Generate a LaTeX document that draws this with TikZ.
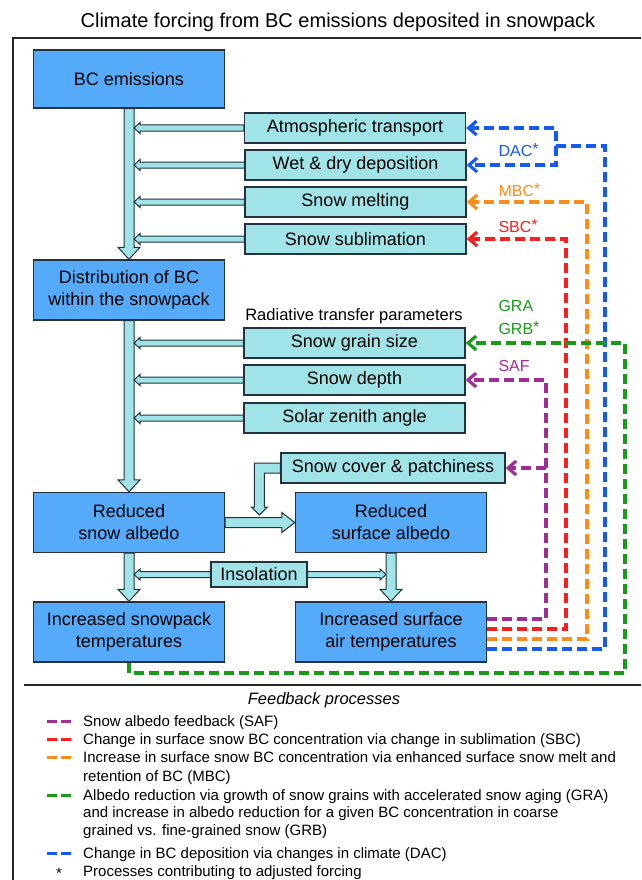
\documentclass[tikz,border=0pt]{standalone}
\usepackage{fontspec}
\setmainfont{Liberation Sans}
\usetikzlibrary{positioning,calc,arrows.meta}
\definecolor{bluefill}{RGB}{85,170,250}
\definecolor{cyanfill}{RGB}{160,228,232}
\definecolor{boxline}{RGB}{35,50,65}
\definecolor{dacc}{RGB}{20,90,245}
\definecolor{mbcc}{RGB}{255,140,25}
\definecolor{sbcc}{RGB}{250,30,30}
\definecolor{grac}{RGB}{25,155,25}
\definecolor{safc}{RGB}{160,45,150}
\tikzset{
	bluebox/.style={draw=boxline,fill=bluefill,line width=1.4pt,minimum width=191pt,minimum height=60pt,inner sep=0pt,align=center,font=\fontsize{18}{22}\selectfont},
	cyanbox/.style={draw=boxline,fill=cyanfill,line width=1.4pt,minimum width=221pt,minimum height=30pt,inner sep=0pt,font=\fontsize{18}{22}\selectfont},
	fatline/.style={draw=boxline,fill=cyanfill,line width=1pt},
	feedback/.style={line width=3.2pt,dash pattern=on 10pt off 5pt,-{Straight Barb[length=8pt,width=14pt]}},
	fblabel/.style={anchor=west,font=\fontsize{16}{18}\selectfont},
	legtext/.style={anchor=base west,align=left,inner sep=0pt,font=\fontsize{15}{17.5}\selectfont},
	legdash/.style={line width=3pt,dash pattern=on 10pt off 4pt}
}
\newcommand{\fatarrow}[5]{%
	\path ($(#2)!#5!(#1)$) coordinate (fa head);
	\draw[fatline] ($(#1)!#3!90:(#2)$) -- ($(fa head)!#3!90:(#2)$) -- ($(fa head)!#4!90:(#2)$) -- (#2) -- ($(fa head)!#4!-90:(#2)$) -- ($(fa head)!#3!-90:(#2)$) -- ($(#1)!#3!-90:(#2)$) -- cycle;}
\newcommand{\adj}{\raisebox{1.5pt}{*}}
\begin{document}
\begin{tikzpicture}[x=1pt,y=1pt]
		\useasboundingbox (0,0) rectangle (641,-880);
		\node (title) at (338,-22) [font=\fontsize{20}{24}\selectfont] {Climate forcing from BC emissions deposited in snowpack};
		\draw [line width=1.6pt,black!85] (641,-38)--(13,-38)--(13,-880);
		\node (bc) at (129,-79) [bluebox,minimum height=58pt] {BC emissions};
		\node (dist) at (129,-290) [bluebox] {Distribution of BC\\within the snowpack};
		\node (rsa) at (129,-522.5) [bluebox] {Reduced\\snow albedo};
		\node (ist) at (129,-632) [bluebox] {Increased snowpack\\temperatures};
		\node (rsurf) at (391,-522.5) [bluebox] {Reduced\\surface albedo};
		\node (isat) at (391,-632) [bluebox] {Increased surface\\air temperatures};
		\node (atm) at (355,-128) [cyanbox] {Atmospheric transport};
		\node (wet) at (355.5,-165) [cyanbox] {Wet \& dry deposition};
		\node (melt) at (355.5,-202) [cyanbox] {Snow melting};
		\node (subl) at (355.5,-239) [cyanbox] {Snow sublimation};
		\node (rtp) at (354,-316) [font=\fontsize{16.5}{19}\selectfont] {Radiative transfer parameters};
		\node (grain) at (354.5,-343) [cyanbox] {Snow grain size};
		\node (depth) at (354.5,-380) [cyanbox] {Snow depth};
		\node (zenith) at (354.5,-418) [cyanbox] {Solar zenith angle};
		\node (cover) at (393,-468) [cyanbox,minimum width=224pt] {Snow cover \& patchiness};
		\node (insol) at (259,-574.5) [cyanbox,minimum width=96pt,minimum height=25pt] {Insolation};
		\coordinate (bcR) at ([xshift=5pt]bc.south);
		\coordinate (distR) at ([xshift=5pt]dist.south);
		\coordinate (rsaR) at ([xshift=5pt]rsa.south);
		\coordinate (rsurfL) at ([xshift=-5pt]rsurf.south);
		\fatarrow{bc.south}{dist.north}{5pt}{11pt}{12pt}
		\fatarrow{dist.south}{rsa.north}{5pt}{11pt}{12pt}
		\fatarrow{rsa.south}{ist.north}{5pt}{11pt}{12pt}
		\fatarrow{rsurf.south}{isat.north}{5pt}{11pt}{12pt}
		\fatarrow{rsa.east}{rsurf.west}{5pt}{10pt}{13pt}
		\draw [fatline] ([yshift=5pt]cover.west)--++(-26,0)--++(0,-44)--++(-3,0)--++(8,-8)--++(8,8)--++(-3,0)--++(0,34)--([yshift=-5pt]cover.west)--cycle;
		\fatarrow{atm.west}{atm.west -| bcR}{3pt}{5.5pt}{6pt}
		\fatarrow{wet.west}{wet.west -| bcR}{3pt}{5.5pt}{6pt}
		\fatarrow{melt.west}{melt.west -| bcR}{3pt}{5.5pt}{6pt}
		\fatarrow{subl.west}{subl.west -| bcR}{3pt}{5.5pt}{6pt}
		\fatarrow{grain.west}{grain.west -| distR}{3pt}{5.5pt}{6pt}
		\fatarrow{depth.west}{depth.west -| distR}{3pt}{5.5pt}{6pt}
		\fatarrow{zenith.west}{zenith.west -| distR}{3pt}{5.5pt}{6pt}
		\fatarrow{insol.west}{insol.west -| rsaR}{3pt}{5.5pt}{6pt}
		\fatarrow{insol.east}{insol.east -| rsurfL}{3pt}{5.5pt}{6pt}
		\draw [feedback,safc] ([yshift=13pt]isat.east) -| (546,-380) -- (depth.east);
		\draw [feedback,safc] (546,-468) -- (cover.east);
		\draw [feedback,sbcc] ([yshift=3pt]isat.east) -| (566,-239) -- (subl.east);
		\draw [feedback,mbcc] ([yshift=-7pt]isat.east) -| (587,-202) -- (melt.east);
		\draw [feedback,dacc] ([yshift=-17pt]isat.east) -| (605,-146) -- (556,-146) |- (atm.east);
		\draw [feedback,dacc] (556,-146) |- (wet.east);
		\draw [feedback,grac] (ist.south) |- (625,-673) |- (grain.east);
		\node (dac) at (495,-150) [fblabel,text=dacc] {DAC\adj};
		\node (mbc) at (495,-190) [fblabel,text=mbcc] {MBC\adj};
		\node (sbc) at (495,-226) [fblabel,text=sbcc] {SBC\adj};
		\node (gra) at (495,-306) [fblabel,text=grac] {GRA};
		\node (grb) at (495,-328) [fblabel,text=grac] {GRB\adj};
		\node (saf) at (495,-366) [fblabel,text=safc] {SAF};
		\draw [line width=1.6pt,black!85] (24,-685)--(641,-685);
		\node (legtitle) at (324,-700) [font=\fontsize{16.5}{19}\selectfont\itshape] {Feedback processes};
		\draw [legdash,safc] (47,-721)--(71,-721);
		\node (legsaf) at (83,-726) [legtext] {Snow albedo feedback (SAF)};
		\draw [legdash,sbcc] (47,-739)--(71,-739);
		\node (legsbc) at (83,-744) [legtext] {Change in surface snow BC concentration via change in sublimation (SBC)};
		\draw [legdash,mbcc] (47,-757)--(71,-757);
		\node (legmbc) at (83,-781) [legtext,font=\fontsize{15}{19}\selectfont] {Increase in surface snow BC concentration via enhanced surface snow melt and\\retention of BC (MBC)};
		\draw [legdash,grac] (47,-795)--(71,-795);
		\node (leggra) at (83,-835) [legtext] {Albedo reduction via growth of snow grains with accelerated snow aging (GRA)\\and increase in albedo reduction for a given BC concentration in coarse\\grained vs. fine-grained snow (GRB)};
		\draw [legdash,dacc] (47,-853)--(71,-853);
		\node (legdac) at (83,-858) [legtext] {Change in BC deposition via changes in climate (DAC)};
		\node (legstar) at (59,-873) [inner sep=0pt,font=\fontsize{15}{17.5}\selectfont] {*};
		\node (legadj) at (83,-876) [legtext] {Processes contributing to adjusted forcing};
    \end{tikzpicture}
\end{document}
